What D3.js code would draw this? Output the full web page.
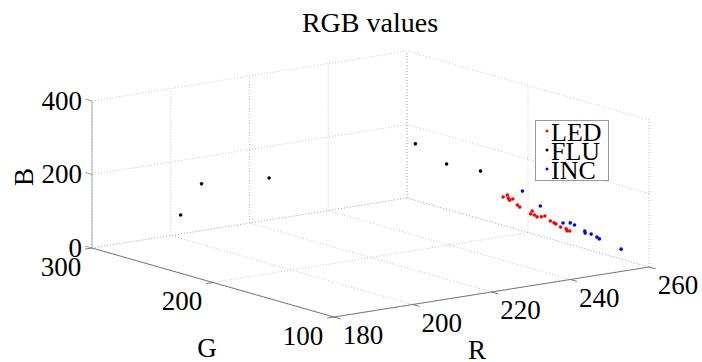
<!DOCTYPE html>
<html>
<head>
<meta charset="utf-8">
<script src="https://cdn.jsdelivr.net/npm/d3@7"></script>
<style>
  body { margin: 0; background: #fff; }
  svg { display: block; }
</style>
</head>
<body>
<svg id="chart" width="702" height="362"></svg>
<script>
// values
const ledR = [242, 244, 243, 244, 246, 245, 245, 249, 250, 249, 250, 252, 252, 254, 254, 256, 256, 258, 257, 258];
const ledG = [162, 165, 161, 163, 167, 160, 158, 162, 164, 159, 160, 163, 160, 162, 159, 164, 160, 162, 158, 159];
const ledB = [163, 162, 159, 150, 146, 138, 134, 105, 109, 105, 97, 91, 96, 77, 75, 64, 59, 49, 49, 46];

const fluR = [185, 190, 205, 240, 247, 255];
const fluG = [243, 242, 235, 228, 225, 223];
const fluB = [135, 212, 209, 249, 185, 154];

const incR = [234, 237, 244, 244, 246, 248, 249, 249, 252, 252, 256];
const incG = [120, 115, 119, 113, 116, 114, 117, 112, 117, 115, 110];
const incB = [232, 191, 129, 135, 123, 105, 95, 97, 79, 76, 46];

const rTicks = [180, 200, 220, 240, 260];
const gTicks = [100, 200, 300];
const bTicks = [0, 200, 400];

const seriesNames = [`LED`, `FLU`, `INC`];
const seriesColors = [`#ff0000`, `#000000`, `#0000ff`];

const serif = `'Liberation Serif', 'Times New Roman', serif`;

const svg = d3.select(`#chart`);

const sR = d3.scaleLinear().domain([180, 260]).range([0, 1]);
const sG = d3.scaleLinear().domain([100, 300]).range([0, 1]);
const sB = d3.scaleLinear().domain([0, 400]).range([0, 1]);

// projected box: front-bottom corner and the three axis vectors
const O = [334, 317];
const vR = [315, -50];
const vG = [-242, -69];
const vB = [0, -147];

const proj = (r, g, b) => {
    const u = sR(r), v = sG(g), w = sB(b);
    return [O[0] + u * vR[0] + v * vG[0] + w * vB[0],
            O[1] + u * vR[1] + v * vG[1] + w * vB[1]];
};

const grid = svg.append(`g`);
const gridLine = (a, b) => grid.append(`line`)
    .attr(`x1`, a[0]).attr(`y1`, a[1])
    .attr(`x2`, b[0]).attr(`y2`, b[1])
    .attr(`stroke`, `#b4b4b4`)
    .attr(`stroke-width`, 0.8)
    .attr(`stroke-dasharray`, `1,2`);

const [r0, r1] = sR.domain();
const [g0, g1] = sG.domain();
const [b0, b1] = sB.domain();

// floor
rTicks.forEach(r => gridLine(proj(r, g0, 0), proj(r, g1, 0)));
gTicks.forEach(g => gridLine(proj(r0, g, 0), proj(r1, g, 0)));
// back wall (G max)
rTicks.forEach(r => gridLine(proj(r, g1, b0), proj(r, g1, b1)));
bTicks.forEach(b => gridLine(proj(r0, g1, b), proj(r1, g1, b)));
// side wall (R max)
gTicks.forEach(g => gridLine(proj(r1, g, b0), proj(r1, g, b1)));
bTicks.forEach(b => gridLine(proj(r1, g0, b), proj(r1, g1, b)));

// axis lines
const axes = svg.append(`g`).attr(`fill`, `none`);
const axisLine = (a, b, color) => axes.append(`line`)
    .attr(`x1`, a[0]).attr(`y1`, a[1])
    .attr(`x2`, b[0]).attr(`y2`, b[1])
    .attr(`stroke`, color)
    .attr(`stroke-width`, 1);

axisLine(proj(r0, g1, 0), proj(r0, g0, 0), `#777`);
axisLine(proj(r0, g0, 0), proj(r1, g0, 0), `#777`);
axisLine(proj(r0, g1, b0), proj(r0, g1, b1), `#aaa`);

const unit = v => { const l = Math.hypot(v[0], v[1]); return [v[0] / l, v[1] / l]; };
const tickLen = 7;
const tickDirR = unit([-vG[0], -vG[1]]);
const tickDirG = unit([-vR[0], -vR[1]]);
const tickDirB = unit(vG);

rTicks.forEach(r => {
    const p = proj(r, g0, 0);
    axisLine(p, [p[0] + tickDirR[0] * tickLen, p[1] + tickDirR[1] * tickLen], `#777`);
});
gTicks.forEach(g => {
    const p = proj(r0, g, 0);
    axisLine(p, [p[0] + tickDirG[0] * tickLen, p[1] + tickDirG[1] * tickLen], `#777`);
});
bTicks.forEach(b => {
    const p = proj(r0, g1, b);
    axisLine(p, [p[0] + tickDirB[0] * tickLen, p[1] + tickDirB[1] * tickLen], `#999`);
});

// tick labels
const labels = svg.append(`g`).attr(`fill`, `#000`);
const label = (x, y, txt, anchor) => labels.append(`text`)
    .attr(`x`, x).attr(`y`, y)
    .attr(`text-anchor`, anchor)
    .style(`font-family`, serif)
    .style(`font-size`, `27px`)
    .text(txt);

rTicks.forEach(r => {
    const p = proj(r, g0, 0);
    label(p[0] + 29, p[1] + 27, r, `middle`);
});
gTicks.forEach(g => {
    const p = proj(r0, g, 0);
    label(p[0] - 31, p[1] + 27.5, g, `middle`);
});
bTicks.forEach(b => {
    const p = proj(r0, g1, b);
    label(p[0] - 10, p[1] + 8.5, b, `end`);
});

// axis titles
label(477, 359, `R`, `middle`);
label(207, 357, `G`, `middle`);
label(0, 0, `B`, `middle`).attr(`transform`, `translate(33, 177) rotate(-90)`);

svg.append(`text`)
    .attr(`x`, 370).attr(`y`, 32)
    .attr(`text-anchor`, `middle`)
    .style(`font-family`, serif)
    .style(`font-size`, `28px`)
    .text(`RGB values`);

// points
const series = [
    { r: ledR, g: ledG, b: ledB },
    { r: fluR, g: fluG, b: fluB },
    { r: incR, g: incG, b: incB }
];

series.forEach((s, k) => {
    const pts = s.r.map((r, i) => proj(r, s.g[i], s.b[i]));
    svg.append(`g`).selectAll(`circle`)
        .data(pts)
        .enter()
        .append(`circle`)
        .attr(`cx`, d => d[0])
        .attr(`cy`, d => d[1])
        .attr(`r`, 1.8)
        .attr(`fill`, seriesColors[k]);
});

// legend
const legend = svg.append(`g`);
legend.append(`rect`)
    .attr(`x`, 535.5).attr(`y`, 120.5)
    .attr(`width`, 73).attr(`height`, 60)
    .attr(`fill`, `#fff`)
    .attr(`stroke`, `#999`)
    .attr(`stroke-width`, 1);

seriesNames.forEach((name, i) => {
    const y = 131 + i * 19;
    legend.append(`circle`)
        .attr(`cx`, 547).attr(`cy`, y)
        .attr(`r`, 1.5)
        .attr(`fill`, seriesColors[i]);
    legend.append(`text`)
        .attr(`x`, 551).attr(`y`, y + 9.5)
        .style(`font-family`, serif)
        .style(`font-size`, `26px`)
        .text(name);
});
</script>
</body>
</html>
